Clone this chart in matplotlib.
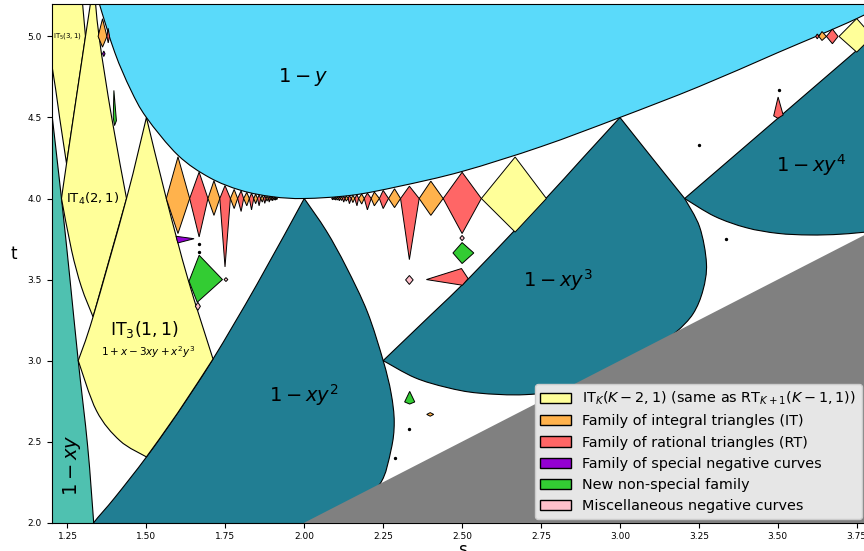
import matplotlib
matplotlib.use("Agg")
import matplotlib.pyplot as plt
from matplotlib.path import Path
from matplotlib.patches import PathPatch, Patch, Polygon

# ---------------- colours ----------------
COL = {
    "IT_K": "#FFFF99", "IT": "#FFB24C", "RT": "#FF6666", "SP": "#9400D3",
    "NEW": "#33CC33", "MISC": "#FFC0CB",
    "cyan": "#5ADAFA", "teal": "#217E93", "lteal": "#4FC1B0", "gray": "#808080",
}

# ---------------- axes ----------------
xticks = [1.25, 1.50, 1.75, 2.00, 2.25, 2.50, 2.75, 3.00, 3.25, 3.50, 3.75]
yticks = [2.0, 2.5, 3.0, 3.5, 4.0, 4.5, 5.0]
xlim = (1.2, 3.8)
ylim = (2.0, 5.2)

# ---------------- big regions (boundary pieces, (s, t)) ----------------
gray_region = [[(1.5, 1.5), (4.5, 4.5)], [(4.5, 4.5), (4.5, 1.5)], [(4.5, 1.5), (1.5, 1.5)]]

cyan_edge = [(1.333, 5.333), (1.35, 5.207), (1.40, 4.90), (1.45, 4.672), (1.50, 4.50),
             (1.60, 4.267), (1.70, 4.129), (1.80, 4.05), (1.90, 4.011), (2.00, 4.00),
             (2.15, 4.02), (2.30, 4.075), (2.50, 4.167), (2.75, 4.32), (3.00, 4.50),
             (3.25, 4.69), (3.50, 4.90), (3.75, 5.11), (3.95, 5.31)]
cyan_region = [cyan_edge, [(3.95, 5.31), (3.95, 5.6)], [(3.95, 5.6), (1.333, 5.6)],
               [(1.333, 5.6), (1.333, 5.333)]]

xy1_region = [[(1.10, 4.9), (1.199, 4.55)],
              [(1.199, 4.55), (1.231, 4.0), (1.258, 3.5), (1.284, 3.0), (1.314, 2.47), (1.333, 2.0), (1.336, 1.9)],
              [(1.336, 1.9), (1.10, 1.9)], [(1.10, 1.9), (1.10, 4.9)]]

xy2_region = [[(1.30, 1.9), (1.333, 2.0), (1.40, 2.155), (1.50, 2.405), (1.60, 2.68), (1.711, 3.01), (1.85, 3.47), (2.0, 4.0)],
              [(2.0, 4.0), (2.07, 3.80), (2.133, 3.578), (2.20, 3.30), (2.25, 3.0), (2.275, 2.80),
               (2.285, 2.62), (2.275, 2.45), (2.24, 2.24), (2.15, 2.10), (2.0, 1.9)],
              [(2.0, 1.9), (1.30, 1.9)]]

xy3_region = [[(2.25, 3.0), (2.40, 3.28), (2.52, 3.505), (2.66, 3.79), (2.77, 4.01), (2.88, 4.245), (3.0, 4.5)],
              [(3.0, 4.5), (3.10, 4.255), (3.205, 4.0)],
              [(3.205, 4.0), (3.2525, 3.824), (3.274, 3.60), (3.263, 3.434), (3.232, 3.29), (3.18, 3.18), (3.12, 3.10),
               (3.0, 2.96), (2.85, 2.83), (2.70, 2.79), (2.55, 2.80), (2.45, 2.835), (2.35, 2.895), (2.25, 3.0)]]

xy4_region = [[(3.205, 4.0), (4.0, 5.333)], [(4.0, 5.333), (4.1, 5.333)], [(4.1, 5.333), (4.1, 3.9)],
              [(4.1, 3.9), (3.9, 3.85), (3.8, 3.80), (3.7, 3.78), (3.6, 3.775), (3.5, 3.785), (3.4, 3.82),
               (3.3, 3.89), (3.205, 4.0)]]

it3_region = [[(1.5, 4.5), (1.437, 4.0), (1.331, 3.27), (1.284, 3.0)],
              [(1.284, 3.0), (1.342, 2.69), (1.416, 2.506), (1.5, 2.406)],
              [(1.5, 2.406), (1.6, 2.68), (1.711, 3.01)],
              [(1.711, 3.01), (1.632, 3.5), (1.563, 4.0), (1.5, 4.5)]]

it4_region = [[(1.333, 5.333), (1.307, 5.0), (1.247, 4.215), (1.231, 4.0)],
              [(1.231, 4.0), (1.263, 3.68), (1.294, 3.455), (1.331, 3.27)],
              [(1.331, 3.27), (1.437, 4.0)],
              [(1.437, 4.0), (1.39, 4.5), (1.35, 5.0), (1.333, 5.333)]]

it5_region = [[(1.25, 6.25), (1.178, 5.0)],
              [(1.178, 5.0), (1.2, 4.83), (1.225, 4.5), (1.247, 4.215)],
              [(1.247, 4.215), (1.307, 5.0)],
              [(1.307, 5.0), (1.25, 6.25)]]

# ---------------- diamonds along t = 4 and t = 5 ----------------
# (family, s_left, s_centre, s_right, t_mid, t_top, t_bottom)
diamonds = [
    ("IT_K", 2.561, 2.668, 2.767, 4.0, 4.256, 3.793),
    ("IT_K", 3.694, 3.750, 3.800, 5.0, 5.110, 4.903),
    ("IT", 1.563, 1.600, 1.637, 4.0, 4.257, 3.784),
    ("RT", 1.637, 1.667, 1.695, 4.0, 4.163, 3.763),
    ("IT", 1.695, 1.714, 1.7325, 4.0, 4.110, 3.896),
    ("RT", 1.7325, 1.749, 1.766, 4.0, 4.080, 3.578),
    ("IT", 1.766, 1.778, 1.789, 4.0, 4.056, 3.938),
    ("RT", 1.789, 1.800, 1.808, 4.0, 4.048, 3.920),
    ("IT", 1.808, 1.818, 1.826, 4.0, 4.038, 3.955),
    ("RT", 1.826, 1.833, 1.840, 4.0, 4.032, 3.930),
    ("IT", 1.840, 1.846, 1.852, 4.0, 4.027, 3.968),
    ("RT", 1.852, 1.857, 1.862, 4.0, 4.023, 3.955),
    ("IT", 1.862, 1.867, 1.871, 4.0, 4.020, 3.978),
    ("RT", 1.871, 1.875, 1.879, 4.0, 4.017, 3.970),
    ("IT", 1.879, 1.882, 1.886, 4.0, 4.015, 3.984),
    ("RT", 1.886, 1.889, 1.892, 4.0, 4.013, 3.978),
    ("IT", 1.892, 1.895, 1.897, 4.0, 4.011, 3.988),
    ("RT", 1.897, 1.900, 1.902, 4.0, 4.010, 3.986),
    ("IT", 1.902, 1.905, 1.907, 4.0, 4.009, 3.991),
    ("RT", 1.907, 1.909, 1.911, 4.0, 4.008, 3.990),
    ("IT", 1.911, 1.913, 1.915, 4.0, 4.007, 3.993),
    ("RT", 2.440, 2.500, 2.561, 4.0, 4.162, 3.784),
    ("IT", 2.364, 2.401, 2.440, 4.0, 4.107, 3.896),
    ("RT", 2.305, 2.333, 2.364, 4.0, 4.076, 3.623),
    ("IT", 2.267, 2.286, 2.305, 4.0, 4.060, 3.944),
    ("RT", 2.238, 2.250, 2.267, 4.0, 4.050, 3.938),
    ("IT", 2.212, 2.222, 2.238, 4.0, 4.040, 3.955),
    ("RT", 2.190, 2.200, 2.212, 4.0, 4.033, 3.930),
    ("IT", 2.172, 2.182, 2.190, 4.0, 4.028, 3.966),
    ("RT", 2.160, 2.167, 2.172, 4.0, 4.024, 3.955),
    ("IT", 2.149, 2.154, 2.160, 4.0, 4.021, 3.975),
    ("RT", 2.139, 2.143, 2.149, 4.0, 4.018, 3.968),
    ("IT", 2.129, 2.133, 2.139, 4.0, 4.016, 3.984),
    ("RT", 2.121, 2.125, 2.129, 4.0, 4.014, 3.978),
    ("IT", 2.114, 2.118, 2.121, 4.0, 4.012, 3.988),
    ("RT", 2.108, 2.111, 2.114, 4.0, 4.011, 3.986),
    ("IT", 2.102, 2.105, 2.108, 4.0, 4.010, 3.991),
    ("RT", 2.097, 2.100, 2.102, 4.0, 4.009, 3.990),
    ("IT", 2.092, 2.095, 2.097, 4.0, 4.008, 3.993),
    ("RT", 2.087, 2.090, 2.092, 4.0, 4.007, 3.992),
    ("IT", 1.347, 1.361, 1.375, 5.0, 5.109, 4.934),
    ("RT", 1.375, 1.379, 1.383, 5.0, 5.050, 4.960),
    ("IT", 3.630, 3.640, 3.654, 5.0, 5.030, 4.975),
    ("RT", 3.654, 3.673, 3.691, 5.0, 5.045, 4.955),
    ("RT", 3.620, 3.625, 3.630, 5.0, 5.015, 4.985),
]

# ---------------- small isolated shapes ----------------
small_shapes = [
    ("SP", [(1.594, 3.767), (1.651, 3.752), (1.5995, 3.726)]),
    ("SP", [(1.365, 4.91), (1.369, 4.893), (1.365, 4.876), (1.361, 4.893)]),
    ("NEW", [(1.667, 3.65), (1.741, 3.50), (1.661, 3.36), (1.635, 3.49)]),
    ("NEW", [(1.397, 4.667), (1.405, 4.48), (1.399, 4.45), (1.395, 4.50)]),
    ("NEW", [(2.500, 3.728), (2.537, 3.664), (2.500, 3.599), (2.471, 3.664)]),
    ("NEW", [(2.334, 2.81), (2.350, 2.745), (2.334, 2.732), (2.318, 2.745)]),
    ("MISC", [(1.752, 3.512), (1.758, 3.50), (1.752, 3.488), (1.746, 3.50)]),
    ("MISC", [(1.663, 3.36), (1.671, 3.335), (1.663, 3.31), (1.655, 3.335)]),
    ("MISC", [(2.333, 3.525), (2.345, 3.498), (2.333, 3.47), (2.321, 3.498)]),
    ("MISC", [(2.500, 3.772), (2.507, 3.756), (2.500, 3.740), (2.493, 3.756)]),
    ("RT", [(2.387, 3.50), (2.498, 3.568), (2.519, 3.506), (2.501, 3.465)]),
    ("RT", [(3.501, 4.626), (3.517, 4.515), (3.500, 4.495), (3.487, 4.510)]),
    ("IT", [(2.388, 2.668), (2.399, 2.679), (2.410, 2.668), (2.399, 2.657)]),
]
dots_s = [1.667, 1.667, 2.333, 2.287, 3.250, 3.335, 3.504]
dots_t = [3.722, 3.670, 2.580, 2.400, 4.332, 3.753, 4.667]

# ---------------- labels ----------------
region_labels = [
    (r"$1-y$", 1.996, 4.75, 14, 0),
    (r"$1-xy^2$", 2.00, 2.79, 14, 0),
    (r"$1-xy^3$", 2.804, 3.496, 14, 0),
    (r"$1-xy^4$", 3.604, 4.205, 14, 0),
    (r"$1-xy$", 1.263, 2.355, 14, 90),
    (r"$\mathrm{IT}_3(1,1)$", 1.495, 3.19, 12.5, 0),
    (r"$1+x-3xy+x^2y^3$", 1.504, 3.05, 7.5, 0),
    (r"$\mathrm{IT}_4(2,1)$", 1.331, 4.0, 9.5, 0),
    (r"$\mathrm{IT}_5(3,1)$", 1.251, 5.0, 5, 0),
]
legend_labels = [
    ("IT_K", r"$\mathrm{IT}_K(K-2,1)$ (same as $\mathrm{RT}_{K+1}(K-1,1)$)"),
    ("IT", "Family of integral triangles (IT)"),
    ("RT", "Family of rational triangles (RT)"),
    ("SP", "Family of special negative curves"),
    ("NEW", "New non-special family"),
    ("MISC", "Miscellaneous negative curves"),
]


def piece_path(segments):
    """Closed path: every piece is a smooth Catmull-Rom curve through its points."""
    verts, codes = [], []
    for k, seg in enumerate(segments):
        pts = [tuple(p) for p in seg]
        if k == 0:
            verts.append(pts[0]); codes.append(Path.MOVETO)
        if len(pts) == 2:
            verts.append(pts[1]); codes.append(Path.LINETO)
            continue
        n = len(pts)
        for i in range(n - 1):
            p0 = pts[i - 1] if i > 0 else pts[i]
            p1, p2 = pts[i], pts[i + 1]
            p3 = pts[i + 2] if i + 2 < n else pts[i + 1]
            c1 = (p1[0] + (p2[0] - p0[0]) / 6, p1[1] + (p2[1] - p0[1]) / 6)
            c2 = (p2[0] - (p3[0] - p1[0]) / 6, p2[1] - (p3[1] - p1[1]) / 6)
            verts += [c1, c2, p2]; codes += [Path.CURVE4] * 3
    verts.append(verts[0]); codes.append(Path.CLOSEPOLY)
    return Path(verts, codes)


fig = plt.figure(figsize=(8.64, 5.51), dpi=100)
ax = fig.add_axes([51.7 / 864, 28.3 / 551, (872.5 - 51.7) / 864, 518.7 / 551])
ax.set_xlim(*xlim)
ax.set_ylim(*ylim)

lw = 0.8
for region, col, z in [(xy1_region, COL["lteal"], 1), (xy2_region, COL["teal"], 1),
                       (xy3_region, COL["teal"], 1), (xy4_region, COL["teal"], 1),
                       (it5_region, COL["IT_K"], 2), (it4_region, COL["IT_K"], 2),
                       (it3_region, COL["IT_K"], 2), (cyan_region, COL["cyan"], 2)]:
    ax.add_patch(PathPatch(piece_path(region), facecolor=col, edgecolor="black", lw=lw, zorder=z))

ax.add_patch(PathPatch(piece_path(gray_region), facecolor=COL["gray"], edgecolor="none", zorder=3))

for fam, sl, sc, sr, tm, tt, tb in diamonds:
    ax.add_patch(Polygon([(sl, tm), (sc, tt), (sr, tm), (sc, tb)], closed=True,
                         facecolor=COL[fam], edgecolor="black", lw=0.7, zorder=4))
for fam, pts in small_shapes:
    ax.add_patch(Polygon(pts, closed=True, facecolor=COL[fam], edgecolor="black", lw=0.7, zorder=4))
ax.scatter(dots_s, dots_t, s=2, color="black", zorder=5)

for txt, s, t, fs, rot in region_labels:
    ax.text(s, t, txt, fontsize=fs, rotation=rot, ha="center", va="center", zorder=6)

ax.set_xticks(xticks)
ax.set_xticklabels([f"{v:.2f}" for v in xticks])
ax.set_yticks(yticks)
ax.set_yticklabels([f"{v:.1f}" for v in yticks])
ax.tick_params(labelsize=6.5)
ax.set_xlabel("s", fontsize=12, labelpad=0)
ax.set_ylabel("t", fontsize=12, rotation=0, labelpad=10)

handles = [Patch(facecolor=COL[k], edgecolor="black", label=lab) for k, lab in legend_labels]
leg = ax.legend(handles=handles, loc="lower right", fontsize=10.4, framealpha=1,
                facecolor="#E6E6E6", edgecolor="#CCCCCC", handlelength=2.1,
                bbox_to_anchor=(862 / 864, 32 / 551), bbox_transform=fig.transFigure,
                borderaxespad=0)
leg.set_zorder(10)

fig.savefig("out.png", dpi=100)
